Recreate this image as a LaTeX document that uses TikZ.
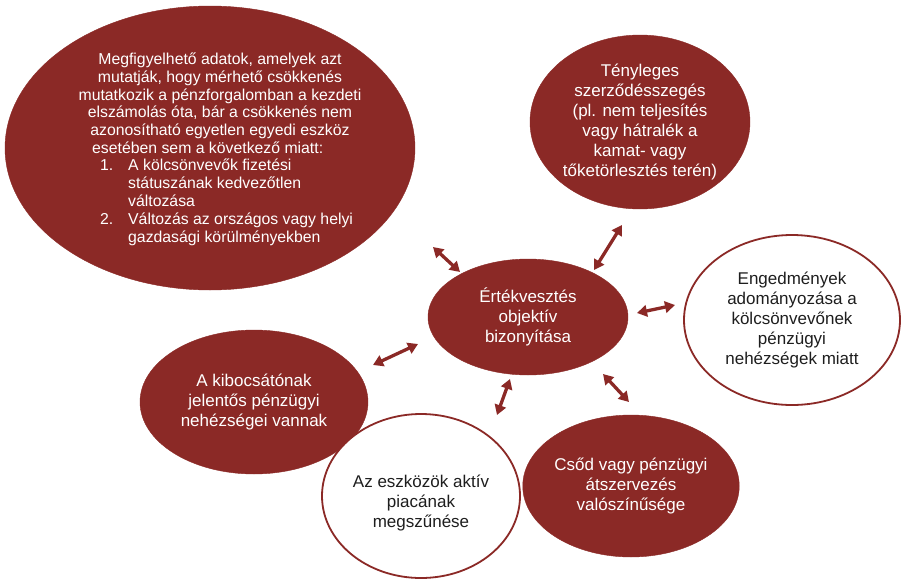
\documentclass[tikz,border=0pt]{standalone}
\usepackage{fontspec}
\setmainfont{Liberation Sans}
\usetikzlibrary{shapes.geometric,arrows.meta}
\definecolor{dred}{RGB}{139,41,38}
\definecolor{txtdark}{RGB}{30,30,30}
\begin{document}
\begin{tikzpicture}[x=1pt,y=-1pt,
  redell/.style={ellipse, fill=dred, draw=dred, inner sep=0pt, text=white,
    align=center, font=\fontsize{17}{20}\selectfont},
  whiteell/.style={ellipse, fill=white, draw=dred, line width=1.8pt, inner sep=0pt,
    text=txtdark, align=center, font=\fontsize{17}{20}\selectfont},
  bigtxt/.style={text=white, inner sep=0pt, font=\fontsize{15.8}{17.8}\selectfont},
  dbl/.style={draw=dred, line width=3.3pt,
    {Triangle[length=10pt,width=11.5pt]}-{Triangle[length=10pt,width=11.5pt]}}
]
\useasboundingbox (0,0) rectangle (903,579);

% big top-left ellipse
\node[redell, minimum width=410pt, minimum height=284pt] (big) at (210,148) {};
\node[bigtxt, align=center] (bigP) at (220,96)
  {Megfigyelhető adatok, amelyek azt\\
   mutatják, hogy mérhető csökkenés\\
   mutatkozik a pénzforgalomban a kezdeti\\
   elszámolás óta, bár a csökkenés nem\\
   azonosítható egyetlen egyedi eszköz};
\node[bigtxt, anchor=west] (bigQ) at (92,148) {esetében sem a következő miatt:};
\node[bigtxt, anchor=west] (bigL) at (100,203)
  {\begin{tabular}{@{}p{28pt}@{}l@{}}
   1. & A kölcsönvevők fizetési\\
      & státuszának kedvezőtlen\\
      & változása\\
   2. & Változás az országos vagy helyi\\
      & gazdasági körülményekben
   \end{tabular}};

% other ellipses
\node[redell, minimum width=220pt, minimum height=174pt] (teny) at (640,122)
  {Tényleges\\ szerződésszegés\\ (pl. nem teljesítés\\ vagy hátralék a\\ kamat- vagy\\ tőketörlesztés terén)};
\node[whiteell, minimum width=216pt, minimum height=170pt] (enged) at (792,320)
  {Engedmények\\ adományozása a\\ kölcsönvevőnek\\ pénzügyi\\ nehézségek miatt};
\node[redell, minimum width=200pt, minimum height=116pt] (cent) at (528,317)
  {Értékvesztés\\ objektív\\ bizonyítása};
\node[redell, minimum width=228pt, minimum height=144pt] (kib) at (254,402)
  {A kibocsátónak\\ jelentős pénzügyi\\ nehézségei vannak};
\node[whiteell, minimum width=198pt, minimum height=164pt] (eszk) at (421,496) {};
\node[text=txtdark, align=center, inner sep=0pt, font=\fontsize{17}{20}\selectfont]
  (eszkT) at (421,503) {Az eszközök aktív\\ piacának\\ megszűnése};
\node[redell, minimum width=198pt, minimum height=142pt] (csod) at (631,486)
  {Csőd vagy pénzügyi\\ átszervezés\\ valószínűsége};

% arrows
\coordinate (a1s) at (433,247); \coordinate (a1e) at (460,272);
\coordinate (a2s) at (622,225); \coordinate (a2e) at (594,270);
\coordinate (a3s) at (637,313); \coordinate (a3e) at (675,305);
\coordinate (a4s) at (603,374); \coordinate (a4e) at (629,402);
\coordinate (a5s) at (510,379); \coordinate (a5e) at (497,415);
\coordinate (a6s) at (373,365); \coordinate (a6e) at (418,344);
\draw[dbl] (a1s) -- (a1e);
\draw[dbl] (a2s) -- (a2e);
\draw[dbl] (a3s) -- (a3e);
\draw[dbl] (a4s) -- (a4e);
\draw[dbl] (a5s) -- (a5e);
\draw[dbl] (a6s) -- (a6e);
\end{tikzpicture}
\end{document}
